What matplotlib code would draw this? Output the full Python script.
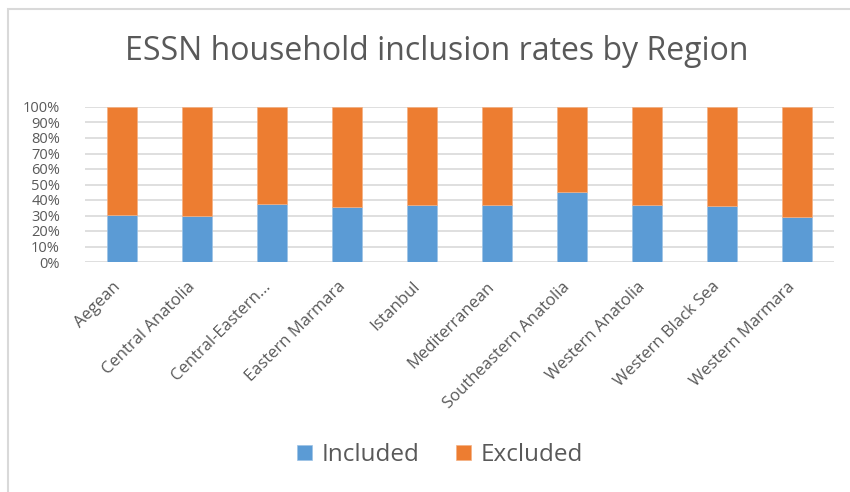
import matplotlib

matplotlib.use("Agg")

import matplotlib.pyplot as plt
from matplotlib.patches import Rectangle
from matplotlib.ticker import MultipleLocator, PercentFormatter
from matplotlib.transforms import ScaledTranslation

regions = [
    "Aegean",
    "Central Anatolia",
    "Central-Eastern...",
    "Eastern Marmara",
    "Istanbul",
    "Mediterranean",
    "Southeastern Anatolia",
    "Western Anatolia",
    "Western Black Sea",
    "Western Marmara",
]
included = [30.4, 29.7, 37.1, 35.6, 36.9, 36.9, 45.1, 36.7, 36.0, 29.1]
excluded = [100 - v for v in included]

blue = "#5B9BD5"
orange = "#ED7D31"
text_col = "#595959"

plt.rcParams["font.family"] = ["Open Sans", "DejaVu Sans"]

fig = plt.figure(figsize=(8.5, 4.92), dpi=100)
fig.patch.set_facecolor("white")

# outer chart border (right/bottom fall outside the image)
fig.patches.append(Rectangle((8 / 850, -0.05), 1.0, 1 - 9 / 492 + 0.05,
                             transform=fig.transFigure, fill=False,
                             edgecolor="#D9D9D9", linewidth=1.5))

ax = fig.add_axes([85 / 850, 1 - 262 / 492, 749 / 850, 155 / 492])

x = range(len(regions))
ax.bar(x, included, width=0.4, color=blue, label="Included", zorder=3,
       edgecolor="#9DC3E6", linewidth=0.5)
ax.bar(x, excluded, width=0.4, bottom=included, color=orange, label="Excluded",
       zorder=3, edgecolor="#F4B183", linewidth=0.5)

ax.set_xlim(-0.5, len(regions) - 0.5)
ax.set_ylim(0, 100)
ax.yaxis.set_major_locator(MultipleLocator(10))
ax.yaxis.set_major_formatter(PercentFormatter(decimals=0))
ax.grid(axis="y", color="#D9D9D9", linewidth=1.2, zorder=0)
for s in ax.spines.values():
    s.set_visible(False)
ax.tick_params(axis="y", length=0, colors=text_col, labelsize=10.5, pad=18)
ax.tick_params(axis="x", length=0, colors=text_col, labelsize=12, pad=12)
ax.set_xticks(list(x))
ax.set_xticklabels(regions, rotation=45, ha="right", rotation_mode="anchor")
shift = ScaledTranslation(-10 / 100, 0, fig.dpi_scale_trans)
for lab in ax.get_xticklabels():
    lab.set_transform(lab.get_transform() + shift)
for lab in ax.get_yticklabels():
    lab.set_horizontalalignment("right")

cx = 437 / 850
fig.text(cx, 1 - 52 / 492, "ESSN household inclusion rates by Region",
         ha="center", va="center", fontsize=23, color=text_col)

fig.legend(loc="center", bbox_to_anchor=(440 / 850, 1 - 455 / 492), ncol=2,
           frameon=False, fontsize=17.5, labelcolor=text_col,
           handlelength=0.6, handleheight=0.6, handletextpad=0.4,
           columnspacing=1.5)

fig.savefig("out.png", dpi=100, facecolor="white")
